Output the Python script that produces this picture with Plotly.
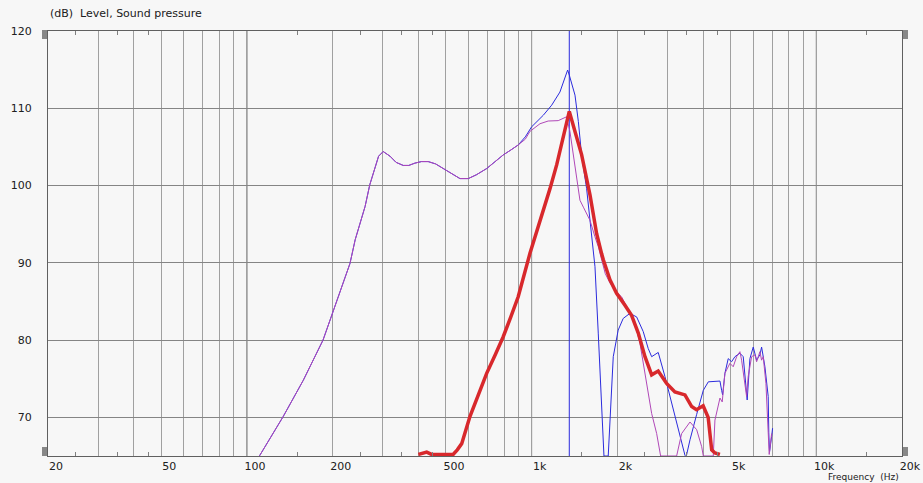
import math
import plotly.graph_objects as go

# ---------------- data ----------------
# low-frequency part shared by the blue and purple responses
shared_freq = [108, 111, 134, 157.7, 185, 198, 230, 240, 260, 270, 282, 290, 301, 318, 334,
               354, 370, 389, 410, 433, 460, 490, 525, 560, 599, 640, 695, 745, 794, 845, 897]
shared_db = [64.5, 65.1, 70.1, 74.8, 80.0, 83.0, 89.9, 93.0, 97.3, 100.1, 102.4, 103.8, 104.4, 103.8, 103.0,
             102.6, 102.6, 102.9, 103.1, 103.1, 102.8, 102.2, 101.5, 100.9, 100.9, 101.4, 102.2, 103.1, 103.95, 104.6, 105.25]

blue_hi_freq = [950, 1000, 1099, 1176, 1257, 1338, 1356, 1420, 1459, 1498, 1560, 1603, 1646, 1669, 1714,
                1761, 1795, 1858, 1884, 1935, 2014, 2097, 2213, 2338, 2466, 2568, 2640, 2784, 2939, 3103,
                3273, 3456, 3490, 3600, 3800, 4009, 4175, 4587, 4650, 4687, 4775, 4904, 5040, 5177, 5391,
                5537, 5717, 5845, 6004, 6170, 6337, 6424, 6599, 6777, 6810, 6850, 6966, 7021]
blue_hi_db = [106.3, 107.6, 109.1, 110.4, 112.1, 114.95, 114.3, 111.7, 108.3, 103.95, 99.6, 95.3, 91.9, 89.5, 80.9,
              72.2, 65.0, 65.0, 70.1, 77.85, 81.3, 82.8, 83.45, 83.0, 81.1, 78.9, 77.85, 78.4, 75.3, 71.8,
              68.4, 65.1, 64.9, 67.1, 70.4, 73.5, 74.6, 74.7, 73.5, 72.9, 75.7, 77.6, 77.2, 77.85, 78.3,
              77.85, 72.25, 77.6, 79.1, 77.4, 78.1, 79.1, 76.55, 72.7, 68.0, 65.5, 67.5, 68.6]

purple_hi_freq = [950, 986, 1070, 1143, 1240, 1327, 1363, 1400, 1445, 1478, 1520, 1560, 1603, 1668, 1714,
                  1814, 1884, 1988, 2070, 2160, 2306, 2401, 2501, 2640, 2749, 2839, 3231, 3300, 3364, 3600,
                  3800, 3957, 4009, 4345, 4405, 4587, 4672, 4775, 4972, 5107, 5249, 5391, 5465, 5690, 5765,
                  5925, 6087, 6170, 6337, 6424, 6509, 6653, 6777, 6832, 6966]
purple_hi_db = [106.0, 107.0, 108.0, 108.35, 108.4, 108.9, 107.0, 104.0, 100.0, 98.1, 97.2, 96.4, 95.5, 93.4, 92.1,
                88.6, 87.4, 86.2, 85.6, 84.3, 82.2, 79.6, 75.7, 70.5, 67.9, 65.0, 65.0, 66.6, 67.9, 69.4,
                68.4, 66.2, 65.0, 65.0, 69.65, 72.5, 72.0, 75.7, 77.0, 76.55, 77.85, 78.5, 77.4, 72.7, 75.3,
                77.85, 78.1, 77.2, 78.5, 77.4, 77.85, 74.4, 67.1, 65.2, 67.9]

red_freq = [400, 428, 445, 530, 548, 568, 607, 650, 695, 745, 794, 845, 897, 986, 1070, 1160, 1225, 1291,
            1356, 1420, 1498, 1603, 1691, 1761, 1786, 1884, 1988, 2127, 2244, 2369, 2501, 2640, 2784, 2980,
            3186, 3456, 3649, 3794, 4004, 4170, 4230, 4290, 4405, 4585]
red_db = [65.2, 65.5, 65.2, 65.2, 65.8, 66.6, 70.1, 72.9, 75.7, 78.1, 80.4, 83.0, 85.6, 91.2, 95.3, 99.6, 102.7, 106.1,
          109.6, 107.0, 104.0, 98.8, 93.8, 91.2, 90.4, 87.8, 86.05, 84.5, 83.2, 80.9, 77.85, 75.5, 76.0, 74.4,
          73.3, 72.9, 71.4, 71.0, 71.5, 70.0, 67.9, 65.8, 65.4, 65.2]

cursor_freq = 1356

grid_freqs = [20, 30, 40, 50, 60, 70, 80, 90, 100, 200, 300, 400, 500, 600, 700, 800, 900,
              1000, 2000, 3000, 4000, 5000, 6000, 7000, 8000, 9000, 10000, 20000]
x_labels = {20: "20", 50: "50", 100: "100", 200: "200", 500: "500", 1000: "1k",
            2000: "2k", 5000: "5k", 10000: "10k", 20000: "20k"}
minor_tick_freqs = [25, 35, 45, 150, 250, 350, 450, 1500, 2500, 3500, 4500, 15000]
decade_freqs = [100, 1000, 10000]
y_ticks = [70, 80, 90, 100, 110, 120]
x_range_hz = [20, 20000]
y_range_db = [65, 120]

# ---------------- figure ----------------
blue_freq = shared_freq + blue_hi_freq
blue_db = shared_db + blue_hi_db
purple_freq = shared_freq + purple_hi_freq
purple_db = shared_db + purple_hi_db

BG = "#f7f7f7"
BLUE = "#2b2bdd"
PURPLE = "#b048b8"
RED = "#d8282c"
FONT = "DejaVu Sans"

fig = go.Figure()
fig.add_trace(go.Scatter(x=[cursor_freq, cursor_freq], y=y_range_db, mode="lines",
                         line=dict(color=BLUE, width=1), hoverinfo="skip", showlegend=False))
fig.add_trace(go.Scatter(x=blue_freq, y=blue_db, mode="lines",
                         line=dict(color=BLUE, width=1), hoverinfo="skip", showlegend=False))
fig.add_trace(go.Scatter(x=purple_freq, y=purple_db, mode="lines",
                         line=dict(color=PURPLE, width=1), hoverinfo="skip", showlegend=False))
fig.add_trace(go.Scatter(x=red_freq, y=red_db, mode="lines",
                         line=dict(color=RED, width=3.5), hoverinfo="skip", showlegend=False))

W, H = 854.0, 425.0
shapes = []
for f in decade_freqs:
    shapes.append(dict(type="line", xref="x", yref="paper", x0=f, x1=f, y0=0, y1=1,
                       line=dict(color="#707070", width=1), layer="between"))
# gray slider handles beside the axes
for (px0, px1) in [(42, 47), (903, 908)]:
    for (py0, py1) in [(30, 39), (447, 456)]:
        shapes.append(dict(type="rect", xref="paper", yref="paper",
                           x0=(px0 - 48) / W, x1=(px1 - 48) / W,
                           y0=(456 - py1) / H, y1=(456 - py0) / H,
                           fillcolor="#888888", line=dict(width=0), layer="above"))

fig.update_layout(
    width=923, height=483,
    margin=dict(l=48, r=21, t=31, b=27, autoexpand=False),
    paper_bgcolor=BG, plot_bgcolor=BG,
    showlegend=False,
    font=dict(family=FONT, size=11, color="#202020"),
    shapes=shapes,
    xaxis=dict(type="log", range=[math.log10(x_range_hz[0]), math.log10(x_range_hz[1])],
               tickmode="array", tickvals=grid_freqs,
               ticktext=[x_labels.get(f, "") for f in grid_freqs],
               showgrid=True, gridcolor="#a0a0a0", gridwidth=1,
               showline=True, linecolor="#606060", linewidth=1, mirror="ticks",
               ticks="", ticklabelshift=8, ticklabelstandoff=0, automargin=False,
               zeroline=False, fixedrange=True,
               minor=dict(tickmode="array", tickvals=minor_tick_freqs, ticks="inside",
                          ticklen=4, tickcolor="#808080", showgrid=False),
               tickfont=dict(family=FONT, size=11, color="#202020")),
    yaxis=dict(range=y_range_db, tickmode="array", tickvals=y_ticks,
               showgrid=True, gridcolor="#858585", gridwidth=1,
               showline=True, linecolor="#606060", linewidth=1, mirror=True,
               ticks="", ticklabelstandoff=13, automargin=False, zeroline=False, fixedrange=True,
               tickfont=dict(family=FONT, size=11, color="#202020")),
    annotations=[
        dict(text="(dB)\u00a0\u00a0Level, Sound pressure", xref="paper", yref="paper",
             x=0, y=1 + 17 / H, xanchor="left", yanchor="middle", showarrow=False,
             font=dict(family=FONT, size=11, color="#202020")),
        dict(text="Frequency\u00a0\u00a0(Hz)", xref="paper", yref="paper",
             x=(900 - 48) / W, y=-27 / H, xanchor="right", yanchor="bottom", showarrow=False,
             borderpad=0, font=dict(family=FONT, size=9, color="#202020")),
    ],
)

fig.write_html("out.html", config={"displayModeBar": False},
               post_script="document.body.style.margin='0px';")
